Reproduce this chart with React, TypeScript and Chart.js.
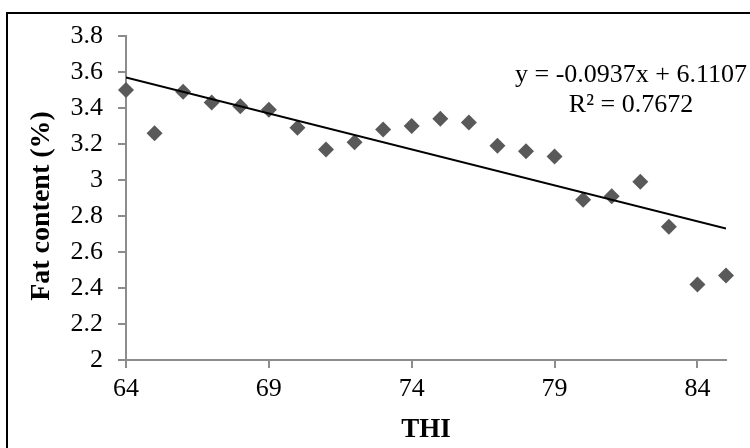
import React, { useEffect, useRef } from "react";
import { Chart, registerables } from "chart.js";

Chart.register(...registerables);

const THI = [64, 65, 66, 67, 68, 69, 70, 71, 72, 73, 74, 75, 76, 77, 78, 79, 80, 81, 82, 83, 84, 85];
const FAT = [3.5, 3.26, 3.49, 3.43, 3.41, 3.39, 3.29, 3.17, 3.21, 3.28, 3.3, 3.34, 3.32, 3.19, 3.16, 3.13, 2.89, 2.91, 2.99, 2.74, 2.42, 2.47];
const TREND_X = [64, 85];
const TREND_Y = [3.57, 2.73];
const X_TICKS = [64, 69, 74, 79, 84];
const Y_TICKS = [2, 2.2, 2.4, 2.6, 2.8, 3, 3.2, 3.4, 3.6, 3.8];
const EQUATION = ["y = -0.0937x + 6.1107", "R² = 0.7672"];
const X_TITLE = "THI";
const Y_TITLE = "Fat content (%)";

const FONT = "'Liberation Serif', 'Times New Roman', serif";
const AXIS_GRAY = "#8c8c8c";

const textPlugin = {
  id: "extraText",
  afterDatasetsDraw(chart: any) {
    const ctx = chart.ctx;
    ctx.save();
    ctx.fillStyle = "#000";
    ctx.font = `26px ${FONT}`;
    ctx.textAlign = "center";
    ctx.textBaseline = "alphabetic";
    ctx.fillText(EQUATION[0], 631, 82);
    ctx.fillText(EQUATION[1], 631, 112);
    ctx.translate(42, 206);
    ctx.rotate(-Math.PI / 2);
    ctx.font = `bold 28px ${FONT}`;
    ctx.textBaseline = "middle";
    ctx.fillText(Y_TITLE, 0, 0);
    ctx.restore();
  },
};

export default function App() {
  const ref = useRef<HTMLCanvasElement>(null);
  useEffect(() => {
    if (!ref.current) return;
    const chart = new Chart(ref.current, {
      type: "scatter",
      data: {
        datasets: [
          {
            label: "Trend",
            data: TREND_X.map((x, i) => ({ x, y: TREND_Y[i] })),
            showLine: true,
            borderColor: "#000",
            borderWidth: 2,
            pointRadius: 0,
            order: 0,
          } as any,
          {
            label: "Fat",
            data: THI.map((x, i) => ({ x, y: FAT[i] })),
            pointStyle: "rectRot",
            pointRadius: 8,
            pointBorderWidth: 0,
            backgroundColor: "#595959",
            borderColor: "#595959",
            clip: false,
            order: 1,
          } as any,
        ],
      },
      options: {
        animation: false,
        responsive: false,
        maintainAspectRatio: false,
        layout: { padding: { top: 36, right: 24, left: 0, bottom: 0 } },
        plugins: { legend: { display: false }, tooltip: { enabled: false } },
        scales: {
          x: {
            type: "linear",
            min: 64,
            max: 85,
            afterBuildTicks: (s: any) => {
              s.ticks = X_TICKS.map((v) => ({ value: v }));
            },
            afterFit: (s: any) => {
              s.height = 88;
            },
            grid: {
              drawOnChartArea: false,
              drawTicks: true,
              tickLength: 8,
              color: AXIS_GRAY,
              lineWidth: 2,
            },
            border: { color: AXIS_GRAY, width: 2 },
            ticks: {
              color: "#000",
              font: { family: FONT, size: 26 },
              padding: 6,
              maxRotation: 0,
              callback: (v: any) => String(v),
            },
            title: {
              display: true,
              text: X_TITLE,
              color: "#000",
              font: { family: FONT, size: 27, weight: "bold" },
              padding: { top: 0, bottom: 2 },
            },
          },
          y: {
            type: "linear",
            min: 2,
            max: 3.8,
            afterBuildTicks: (s: any) => {
              s.ticks = Y_TICKS.map((v) => ({ value: v }));
            },
            afterFit: (s: any) => {
              s.width = 126;
            },
            grid: {
              drawOnChartArea: false,
              drawTicks: true,
              tickLength: 8,
              color: AXIS_GRAY,
              lineWidth: 2,
            },
            border: { color: AXIS_GRAY, width: 2 },
            ticks: {
              color: "#000",
              font: { family: FONT, size: 26 },
              padding: 15,
              callback: (v: any) => String(parseFloat(Number(v).toFixed(1))),
            },
            title: { display: false },
          },
        },
      },
      plugins: [textPlugin],
    });
    return () => chart.destroy();
  }, []);

  return (
    <div
      style={{
        position: "absolute",
        left: 0,
        top: 0,
        width: 750,
        height: 448,
        overflow: "hidden",
        background: "#fff",
      }}
    >
      <div
        style={{
          position: "absolute",
          left: 6,
          top: 12,
          width: 780,
          height: 480,
          border: "2px solid #000",
          boxSizing: "border-box",
        }}
      />
      <canvas
        ref={ref}
        width={750}
        height={448}
        style={{ position: "absolute", left: 0, top: 0, width: 750, height: 448 }}
      />
    </div>
  );
}
